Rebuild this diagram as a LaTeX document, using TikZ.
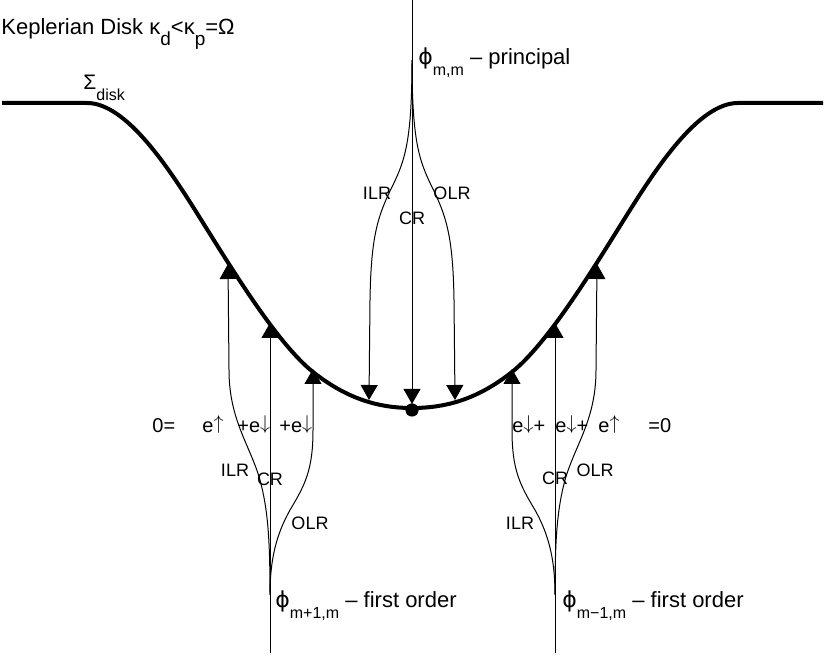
\documentclass[tikz,border=0pt]{standalone}
\usepackage{fontspec}
\setmainfont{Liberation Sans}
\newfontfamily\grk{DejaVu Sans}
\usepackage{tikz}
\usetikzlibrary{arrows.meta}
\newcommand{\lsub}[2][8]{\raisebox{-0.5em}{\fontsize{#1}{#1}\selectfont #2}}
\newcommand{\wphi}{{\grk ϕ}}
\newcommand{\eup}{\raisebox{0.19em}{$\uparrow$}}
\newcommand{\edown}{\raisebox{0.19em}{$\downarrow$}}

\begin{document}
\begin{tikzpicture}[
    x=0.5pt, y=-0.5pt,
    disk/.style={line width=2pt, line join=round},
    wave/.style={line width=0.5pt, -{Triangle[width=8.5pt,length=7.5pt]}},
    res/.style={font=\fontsize{9}{10}\selectfont, inner sep=0pt},
    sum/.style={font=\fontsize{10}{12}\selectfont, anchor=base west, inner sep=0pt},
    lbl/.style={font=\fontsize{11}{13}\selectfont, anchor=base west, inner sep=0pt}
  ]
    \useasboundingbox (0,0) rectangle (830,656);

    % surface density
    \draw[disk] (2,103) -- (87,103) .. controls (127,103) and (170,170) .. (200,218)
      .. controls (235,274) and (278,344) .. (313,372)
      .. controls (346,398) and (377,408) .. (412,408)
      .. controls (448,408) and (479,398) .. (512,372)
      .. controls (547,344) and (590,274) .. (625,218)
      .. controls (655,170) and (698,103) .. (738,103) -- (823,103);

    \coordinate (pTop) at (412,0);
    \coordinate (pMerge) at (412,60);
    \coordinate (pILR) at (369,400);
    \coordinate (pCR) at (412,404);
    \coordinate (pOLR) at (455,400);

    \coordinate (aBot) at (270,653);
    \coordinate (aMerge) at (270,595);
    \coordinate (aILR) at (228,264);
    \coordinate (aCR) at (270,323);
    \coordinate (aOLR) at (313,369);

    \coordinate (bBot) at (555,653);
    \coordinate (bMerge) at (555,595);
    \coordinate (bILR) at (512,369);
    \coordinate (bCR) at (555,323);
    \coordinate (bOLR) at (597,264);

    % principal
    \draw[wave] (pTop) -- (pCR);
    \draw[wave] (pMerge) .. controls (412,140) and (405,160) .. (393,185)
      .. controls (378,215) and (371,235) .. (370,300) -- (pILR);
    \draw[wave] (pMerge) .. controls (412,140) and (419,160) .. (431,185)
      .. controls (446,215) and (453,235) .. (454,300) -- (pOLR);
    \node[circle, fill, inner sep=0pt, minimum size=6.6pt] (corot) at (412,410) {};

    % first order, m+1
    \draw[wave] (aBot) -- (aCR);
    \draw[wave] (aMerge) .. controls (270,540) and (268,510) .. (260,480)
      .. controls (250,445) and (229,420) .. (229,370) -- (aILR);
    \draw[wave] (aMerge) .. controls (270,560) and (276,535) .. (290,510)
      .. controls (305,485) and (313,470) .. (313,430) -- (aOLR);

    % first order, m-1
    \draw[wave] (bBot) -- (bCR);
    \draw[wave] (bMerge) .. controls (555,560) and (549,535) .. (535,510)
      .. controls (520,485) and (512,470) .. (512,430) -- (bILR);
    \draw[wave] (bMerge) .. controls (555,540) and (557,510) .. (565,480)
      .. controls (575,445) and (596,420) .. (596,370) -- (bOLR);

    \node[lbl] (title) at (1,35)
      {Keplerian Disk κ\lsub[9.5]{d}<κ\lsub[9.5]{p}=Ω};
    \node[lbl, font=\fontsize{10.5}{12}\selectfont] (sigma) at (83,90) {Σ\lsub{disk}};
    \node[lbl] (phiP) at (418,65) {\wphi\lsub{m,m} – principal};
    \node[lbl] (phiA) at (275,608) {\wphi\lsub{m+1,m} – first order};
    \node[lbl] (phiB) at (562,608) {\wphi\lsub{m−1,m} – first order};

    \node[res] (ilrP) at (377,193) {ILR};
    \node[res] (crP) at (412,218) {CR};
    \node[res] (olrP) at (452,193) {OLR};
    \node[res] (ilrA) at (235,470) {ILR};
    \node[res] (crA) at (270,479) {CR};
    \node[res] (olrA) at (310,523) {OLR};
    \node[res] (ilrB) at (520,523) {ILR};
    \node[res] (crB) at (555,478) {CR};
    \node[res] (olrB) at (595,470) {OLR};

    \node[sum] (zeroA) at (152,433) {0=};
    \node[sum] (eA1) at (202,433) {e\eup};
    \node[sum] (eA2) at (237,433) {+e\edown};
    \node[sum] (eA3) at (279,433) {+e\edown};
    \node[sum] (eB1) at (512,433) {e\edown+};
    \node[sum] (eB2) at (555,433) {e\edown+};
    \node[sum] (eB3) at (598,433) {e\eup};
    \node[sum] (zeroB) at (648,433) {=0};
\end{tikzpicture}
\end{document}
